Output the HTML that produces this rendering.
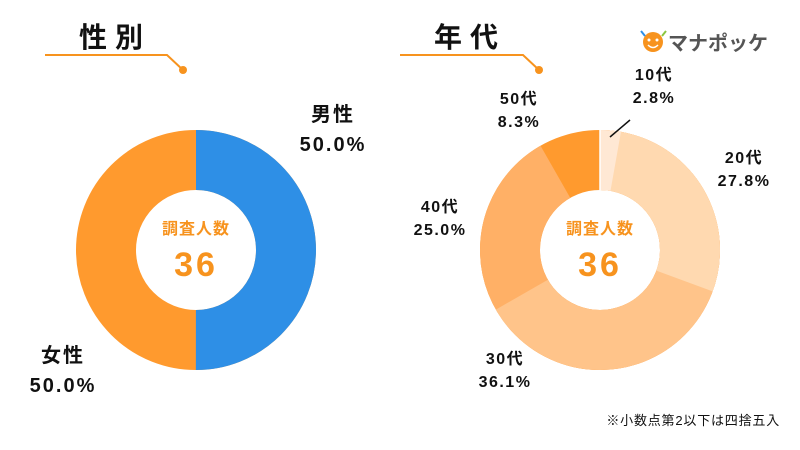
<!DOCTYPE html>
<html><head><meta charset="utf-8"><style>
body{margin:0;width:800px;height:450px;background:#fff;overflow:hidden;font-family:"Liberation Sans","Noto Sans CJK JP",sans-serif}
svg{position:absolute;left:0;top:0}
</style></head><body>
<svg width="800" height="450" viewBox="0 0 800 450" font-family="'Liberation Sans','Noto Sans CJK JP',sans-serif" font-weight="bold">
<text x="115" y="47" font-size="28" text-anchor="middle" fill="#111" letter-spacing="8">性別</text>
<polyline points="45,55 167,55 183,70" fill="none" stroke="#F7931E" stroke-width="2"/>
<circle cx="183" cy="70" r="4" fill="#F7931E"/>
<text x="470" y="47" font-size="28" text-anchor="middle" fill="#111" letter-spacing="8">年代</text>
<polyline points="400,55 523,55 539,70" fill="none" stroke="#F7931E" stroke-width="2"/>
<circle cx="539" cy="70" r="4" fill="#F7931E"/>
<circle cx="653" cy="42" r="10" fill="#F7931E"/>
<circle cx="649" cy="40" r="1.5" fill="#fff"/><circle cx="657" cy="40" r="1.5" fill="#fff"/>
<path d="M648 45 Q653 50 658 45" stroke="#fff" stroke-width="1.5" fill="none"/>
<line x1="641" y1="31" x2="645" y2="36" stroke="#2E8FE6" stroke-width="2"/>
<line x1="666" y1="31" x2="662" y2="36" stroke="#8CC63F" stroke-width="2"/>
<text x="668" y="50" font-size="20" fill="#555">マナポッケ</text>
<g transform="rotate(-90 196 250)">
<circle cx="196" cy="250" r="90" fill="none" stroke="#FF9A2E" stroke-width="60"/>
<circle cx="196" cy="250" r="90" fill="none" stroke="#2E8FE6" stroke-width="60" stroke-dasharray="282.74 565.49"/>
</g>
<text x="196" y="234" font-size="16" text-anchor="middle" fill="#F7931E" letter-spacing="1">調査人数</text>
<text x="196" y="276" font-size="34" text-anchor="middle" fill="#F7931E" letter-spacing="3">36</text>
<g font-size="20" text-anchor="middle" fill="#111" letter-spacing="2">
<text x="333" y="121">男性</text>
<text x="333" y="151">50.0%</text>
<text x="63" y="362">女性</text>
<text x="63" y="392">50.0%</text>
</g>
<g transform="rotate(-90 600 250)" fill="none" stroke-width="60">
<circle cx="600" cy="250" r="90" stroke="#FF9A2E"/>
<circle cx="600" cy="250" r="90" stroke="#FFB066" stroke-dasharray="518.6 565.49"/>
<circle cx="600" cy="250" r="90" stroke="#FFC48A" stroke-dasharray="377.2 565.49"/>
<circle cx="600" cy="250" r="90" stroke="#FFD9B0" stroke-dasharray="173.0 565.49"/>
<circle cx="600" cy="250" r="90" stroke="#FFE8D4" stroke-dasharray="15.8 565.49"/>
</g>
<line x1="600" y1="190" x2="600" y2="130" stroke="#fff" stroke-width="1.5"/>
<text x="600" y="234" font-size="16" text-anchor="middle" fill="#F7931E" letter-spacing="1">調査人数</text>
<text x="600" y="276" font-size="34" text-anchor="middle" fill="#F7931E" letter-spacing="3">36</text>
<line x1="610" y1="137" x2="630" y2="120" stroke="#111" stroke-width="1.5"/>
<g font-size="16" fill="#111" text-anchor="middle" letter-spacing="1.5">
<text x="654" y="80">10代</text><text x="654" y="103">2.8%</text>
<text x="519" y="104">50代</text><text x="519" y="127">8.3%</text>
<text x="744" y="163">20代</text><text x="744" y="186">27.8%</text>
<text x="440" y="212">40代</text><text x="440" y="235">25.0%</text>
<text x="505" y="364">30代</text><text x="505" y="387">36.1%</text>
</g>
<text x="780" y="425" font-size="13" text-anchor="end" fill="#111" font-weight="normal" letter-spacing="0.8">※小数点第2以下は四捨五入</text>
</svg>
</body></html>
